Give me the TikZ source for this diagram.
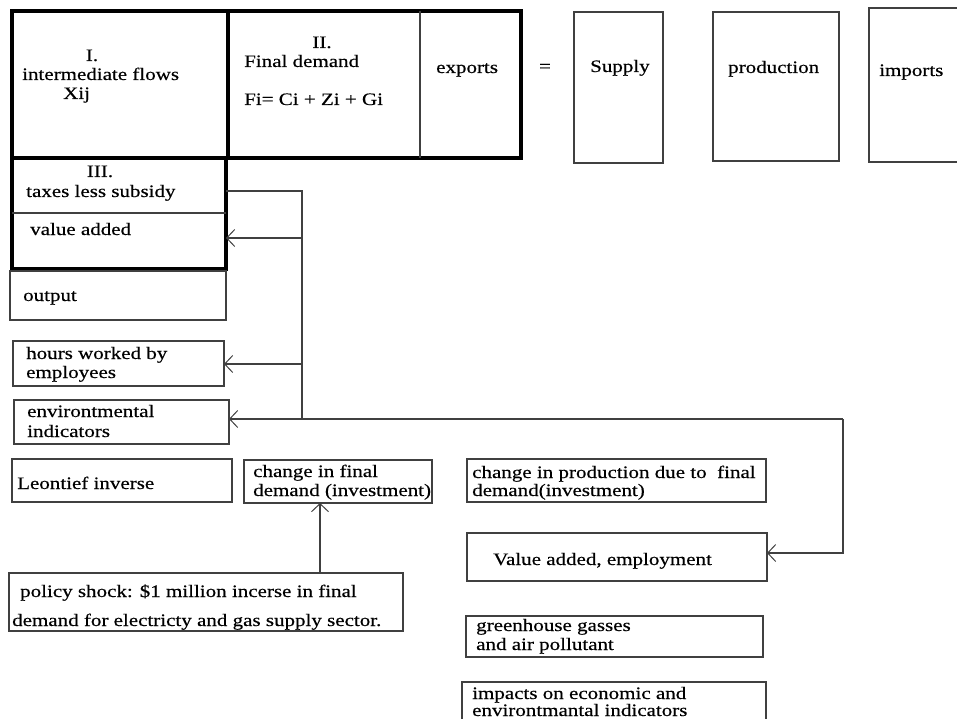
\documentclass[tikz,border=0pt]{standalone}
\usepackage{fontspec}
\setmainfont{Liberation Serif}[FakeStretch=1.2,FakeBold=0.4]
\usetikzlibrary{arrows.meta}
\begin{document}
\begin{tikzpicture}[x=1pt,y=-1pt,
  thinline/.style={draw=black!75, line width=1.2pt},
  box/.style={thinline, anchor=north west, inner sep=0pt, outer sep=0pt},
  bigbox/.style={draw=black, line width=4pt, anchor=north west, inner sep=0pt, outer sep=0pt},
  txt/.style={anchor=base west, inner sep=0pt, font=\fontsize{17.5}{19.5}\selectfont, text=black},
  ctxt/.style={txt, anchor=base},
  arr/.style={thinline, -{Straight Barb[length=8pt,width=17pt,line width=1pt]}},
  conn/.style={thinline}]
\useasboundingbox (0,0) rectangle (957,719);
\fill[white] (0,0) rectangle (957,719);

% top row
\node[bigbox, minimum width=216pt, minimum height=147pt] (I) at (12,11) {};
\node[bigbox, minimum width=293pt, minimum height=147pt] (II) at (228,11) {};
\node[bigbox, minimum width=214pt, minimum height=111pt] (III) at (12,158) {};
\coordinate (divA) at (420,11);
\draw[conn] (divA) -- (divA |- II.south);
\coordinate (divB) at (12,213);
\draw[conn] (divB) -- (divB -| III.east);

\node[box, minimum width=89pt, minimum height=151pt] (supply) at (574,12) {};
\node[box, minimum width=126pt, minimum height=149pt] (prod) at (713,12) {};
\node[box, minimum width=101pt, minimum height=154pt] (imp) at (869,8) {};

\node[ctxt] (tI) at (92,61) {I.};
\node[txt] (tI2) at (22,80) {intermediate flows};
\node[txt] (tI3) at (63,99) {Xij};
\node[ctxt] (tII) at (322,48) {II.};
\node[txt] (tII2) at (244,67) {Final demand};
\node[txt] (tII3) at (244,105) {Fi= Ci + Zi + Gi};
\node[txt] (texp) at (436,73) {exports};
\node[ctxt] (teq) at (545,72) {=};
\node[txt] (tsup) at (590,72) {Supply};
\node[txt] (tprod) at (728,73) {production};
\node[txt] (timp) at (879,76) {imports};
\node[ctxt] (tIII) at (100,177) {III.};
\node[txt] (ttax) at (26,197) {taxes less subsidy};
\node[txt] (tva) at (30,235) {value added};

% left column
\node[box, minimum width=216pt, minimum height=49pt] (output) at (10,271) {};
\node[box, minimum width=211pt, minimum height=45pt] (hours) at (13,341) {};
\node[box, minimum width=215pt, minimum height=44pt] (env) at (14,400) {};
\node[box, minimum width=220pt, minimum height=43pt] (leon) at (12,459) {};
\node[box, minimum width=188pt, minimum height=43pt] (cfd) at (244,460) {};
\node[box, minimum width=394pt, minimum height=58pt] (policy) at (9,573) {};

\node[txt] (tout) at (23,301) {output};
\node[txt] (thr1) at (26,359) {hours worked by};
\node[txt] (thr2) at (26,378) {employees};
\node[txt] (tenv1) at (27,417) {environtmental};
\node[txt] (tenv2) at (27,437) {indicators};
\node[txt] (tleon) at (17,489) {Leontief inverse};
\node[txt] (tcfd1) at (253,477) {change in final};
\node[txt] (tcfd2) at (253,496) {demand (investment)};
\node[txt] (tpol1) at (20,597) {policy shock: \$1 million incerse in final};
\node[txt] (tpol2) at (12,626) {demand for electricty and gas supply sector.};

% right column
\node[box, minimum width=299pt, minimum height=43pt] (cprod) at (467,459) {};
\node[box, minimum width=300pt, minimum height=48pt] (va) at (467,533) {};
\node[box, minimum width=297pt, minimum height=41pt] (ghg) at (466,616) {};
\node[box, minimum width=304pt, minimum height=60pt] (imps) at (462,682) {};

\node[txt] (tcp1) at (472,478) {change in production due to \ final};
\node[txt] (tcp2) at (472,496) {demand(investment)};
\node[txt] (tva2) at (493,565) {Value added, employment};
\node[txt] (tghg1) at (476,631) {greenhouse gasses};
\node[txt] (tghg2) at (476,650) {and air pollutant};
\node[txt] (timps1) at (472,699) {impacts on economic and};
\node[txt] (timps2) at (472,716) {environtmantal indicators};

% connectors
\coordinate (b1) at (302,191);
\coordinate (b2) at (302,238);
\coordinate (b3) at (302,364);
\coordinate (b4) at (302,419);
\coordinate (b5) at (843,419);
\coordinate (b6) at (843,553);
\coordinate (shock) at (320,573);
\draw[conn] (III.east |- b1) -- (b1) -- (b4);
\draw[arr] (b2) -- (III.east |- b2);
\draw[arr] (b3) -- (hours.east |- b3);
\draw[arr] (b5) -- (env.east |- b5);
\draw[arr] (b5) -- (b6) -- (va.east |- b6);
\draw[arr] (shock) -- (cfd.south -| shock);
\end{tikzpicture}
\end{document}
